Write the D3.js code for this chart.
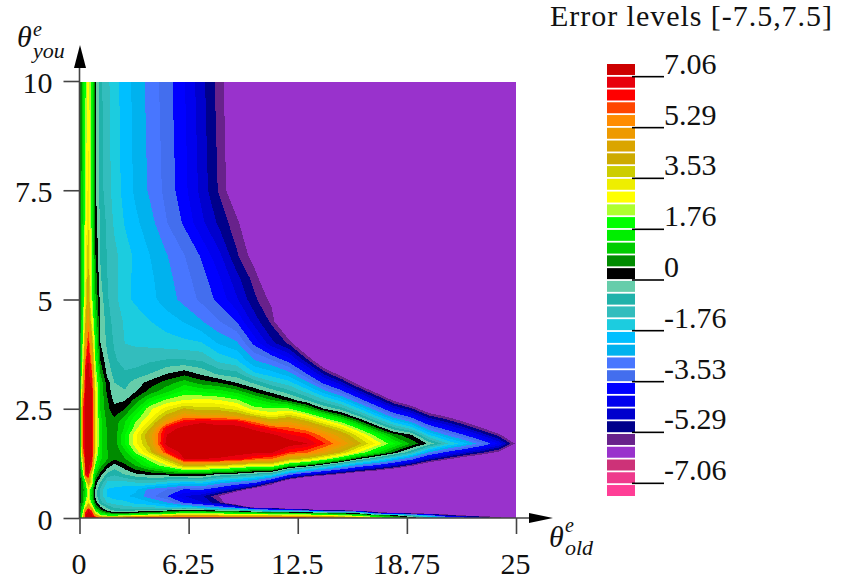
<!DOCTYPE html>
<html>
<head>
  <title>Error levels</title>
  <script src="https://d3js.org/d3.v7.min.js"></script>
  <style>
    html, body { margin: 0; background: #fff; }
    text { font-family: "Liberation Serif", serif; fill: #111; }
  </style>
</head>
<body>
<svg width="846" height="586"></svg>
<script>
  // legend colours, top band first
  const levelColors = ["#cd0000","#e8000d","#ff0000","#ff4500","#ff8c00","#ee9a00","#daa500","#cdaa00","#cdcd00","#eeee00","#ffff00","#adff2f","#00ff00","#00ee00","#00cd00","#008b00","#000000","#66cdaa","#20b2aa","#33bdbd","#1cccdf","#00bfff","#00b2ee","#4876ff","#436eee","#0000ff","#0000ee","#0000cd","#00008b","#68228b","#9932cc","#cd3278","#ee3a8c","#ff3e96"];
  const legendTicks = [7.06, 5.29, 3.53, 1.76, 0, -1.76, -3.53, -5.29, -7.06];
  const xTicks = [0, 6.25, 12.5, 18.75, 25];
  const yTicks = [0, 2.5, 5, 7.5, 10];

  // sampling of the field
  const xGrid = [0,.2,.35,.5,.7,.9,1.2,1.6,2,2.6,3.2,4,5,6,7,8,9,10,11,12,13,14,15,16,17,18,19,20,21,22,23,24,25];
  const yGrid = [0,.06,.12,.18,.25,.35,.5,.65,.8,1,1.2,1.35,1.5,1.7,1.9,2.05,2.2,2.35,2.5,2.7,2.9,3.1,3.3,3.6,4,4.5,5,5.5,6,6.75,7.5,10];
  // one line per xGrid entry, values going up yGrid (anything under -5.74 is the flat purple)
  const errorByColumn = [
    [.5,.4,.3,.3,.3,.2,.1,.1,.1,.1,.2,.2,.2,.2,.3,.3,.3,.3,.3,.3,.3,.3,.3,.3,.3,.3,.3,.25,.2,.2,.2,.2],
    [3.5,3,2.5,2.1,1.5,1,.7,.7,.9,2,3.3,4,5.5,6.3,6.4,6.4,6.4,6.2,6,5.5,4.5,4,3.5,3,2.5,2.1,1.8,1.7,1.6,1.5,1.4,1.3],
    [7.3,7,6.5,5.2,3.5,2.4,1.7,1.6,2,6.8,7.3,7.35,7.4,7.4,7.4,7.4,7.4,7.4,7.4,7.3,7.2,7.1,7.06,6,4.8,4,3.3,3.1,2.9,2.7,2.5,2.2],
    [7.4,7.4,7.3,7.1,5.5,3.5,2.8,3,4.5,7.2,7.4,7.45,7.45,7.45,7.45,7.45,7.45,7.45,7.4,7.4,7.35,7.3,7.3,7.15,6.4,5.4,4.7,4.3,3.9,3.6,3.3,3],
    [7.4,7.3,6.9,5.5,3.5,2,1.2,1.4,3.1,3.2,6.3,7.1,7.3,7.3,7.3,7.3,7.3,7.3,7.25,7.25,7.2,6.9,6.3,5.4,4.6,3.2,2.5,2.3,2.2,2.1,2,1.9],
    [7.2,5,3,1.8,1,.4,-.1,0,.3,1.2,2.2,2.6,3.3,3.5,3.5,3.5,3.5,3.5,3.5,3.4,3.2,3,2.7,2.3,2,1.5,1,.8,.5,.3,.1,.1],
    [6,2.5,1.5,.6,.1,-.7,-1,-1,-.5,.2,1.1,1.4,1.5,1.5,1.5,1.5,1.5,1.4,1.3,1.2,1.3,1.2,.9,.44,0,-.05,-.19,-.39,-.47,-.5,-.69,-.76],
    [6,2,.7,-.2,-.6,-1.35,-1.8,-1.8,-1.5,-.6,.3,.9,.9,.85,.85,.8,.75,.65,.55,.5,.3,.2,-.15,-.35,-.57,-.66,-.83,-.88,-.93,-1,-1.14,-1.22],
    [6,1.9,.2,-.6,-1,-1.5,-2,-1.9,-1.5,-.8,-.2,.5,.55,.62,.6,.62,.6,.38,.18,-.15,-.35,-.44,-.6,-.8,-.94,-1.07,-1.16,-1.2,-1.2,-1.4,-1.51,-1.58],
    [6.5,2.2,.1,-.7,-1.2,-1.6,-2.15,-2,-1.55,-.4,.3,.85,1.1,1.8,1.75,1.4,1.3,.88,.42,-.05,-.4,-.6,-.8,-1.1,-1.33,-1.39,-1.65,-1.6,-1.56,-1.8,-1.93,-1.99],
    [7,2.6,.5,-.6,-1.3,-1.9,-2.3,-2.1,-1.4,-.1,.9,1.4,2.3,2.9,2.95,2.45,2.2,1.8,1.2,.6,-.05,-.26,-.7,-1.1,-1.38,-1.55,-1.84,-1.87,-1.85,-2.1,-2.29,-2.35],
    [7.2,3,.7,-.5,-1.4,-2.1,-2.9,-2.8,-1.3,.1,1.7,2.4,3.6,4.2,4.5,3.9,3.2,2.7,2.5,1.5,.6,.15,-.45,-.95,-1.45,-1.75,-2.05,-2.1,-2.19,-2.45,-2.71,-2.79],
    [7.3,3.6,1.2,-.2,-1.7,-2.6,-3.5,-3.1,-1.65,.25,2.6,4,6.3,7.3,7.06,6.7,5.2,4.1,3.3,2.3,1.2,.65,0,-.83,-1.55,-1.99,-2.42,-2.5,-2.62,-3.07,-3.24,-3.33],
    [7.3,4.2,1.8,.2,-1.8,-3.6,-4.4,-3.6,-2,.44,4.1,7.06,7.35,7.4,7.4,7.3,6.6,5.2,4.05,2.65,1.88,1.1,.3,-.82,-1.64,-2.24,-2.8,-2.92,-3.07,-3.6,-3.83,-3.94],
    [7.3,4,1.7,.1,-2.2,-4.35,-4.75,-3.45,-1.85,.44,4,7.06,7.35,7.45,7.4,7.35,7,4.9,3.65,2.8,1.65,.66,-.1,-.9,-1.73,-2.62,-3.2,-3.35,-3.59,-4.3,-4.57,-4.7],
    [7.3,3.8,1.6,-.4,-3,-5.2,-5.8,-4.1,-2.5,-.1,3.7,7,7.3,7.45,7.4,7.3,6.8,4.9,3.7,2.65,1.5,.42,-.55,-1.44,-2.26,-3.07,-3.67,-3.93,-4.29,-4.95,-5.36,-5.5],
    [7.25,3.7,1.5,-.6,-4.1,-7,-7.4,-5,-3,-.3,3.3,6.8,7.25,7.45,7.4,7.3,6.75,4.5,3.3,2.3,1.1,-.05,-.7,-1.7,-2.55,-3.55,-4.35,-4.7,-5.21,-5.6,-6.3,-6.4],
    [7.2,3.6,1.2,-1.7,-6.5,-6.5,-7,-6.4,-3.53,-.7,2.7,6,7.2,7.45,7.35,6.95,5.7,3.7,2.4,1.55,.35,-.55,-1.65,-2.6,-3.65,-4.6,-5.16,-5.5,-6,-6.5,-7,-7],
    [7.2,3.4,1,-3,-6.5,-7,-7,-7,-5.3,-1.1,2.9,5.74,7.15,7.4,7.2,6.3,4.55,3.05,2.25,.88,-.2,-1.2,-2,-3,-4.7,-5.41,-5.9,-6.5,-7,-7,-7,-7],
    [7.1,3.3,.8,-3,-9,-7,-7,-7,-7.5,-3.15,1.25,4.15,6.2,7.35,6.72,5.88,4.85,3.63,2.28,.25,-.75,-1.6,-2.45,-3.7,-5.4,-7.5,-7,-7,-7,-7,-7,-7],
    [6.9,3.1,.6,-4,-9,-7,-7,-7,-9,-4.3,.5,3.64,5.85,7.1,6.37,5.4,4.2,2.8,1.25,-.47,-1.49,-2.5,-3.5,-5.05,-7.1,-7,-7,-7,-7,-7,-7,-7],
    [6.2,2.9,.2,-5.8,-7,-7,-7,-7,-9.6,-5.1,-.57,2.66,4.95,6.25,5.47,4.43,3.12,1.62,0,-1.26,-2.48,-3.7,-4.93,-6.75,-7,-7,-7,-7,-7,-7,-7,-7],
    [5.5,2.4,-.2,-5.9,-7,-7,-7,-7,-7,-5.9,-1.73,1.48,3.92,5.3,4.5,3.44,2.12,.58,-.65,-2,-3.36,-4.73,-6.08,-7,-7,-7,-7,-7,-7,-7,-7,-7],
    [4.4,1.9,-.6,-7,-7,-7,-7,-7,-7,-6.73,-2.9,0,2.64,4.15,3.28,2.12,.7,-.62,-1.72,-3.2,-4.68,-6.17,-7,-7,-7,-7,-7,-7,-7,-7,-7,-7],
    [3,.9,-5,-7,-7,-7,-7,-7,-7,-7.27,-3.7,-1,1.5,3,1.98,.6,-.71,-1.86,-3,-4.5,-6.02,-7,-7,-7,-7,-7,-7,-7,-7,-7,-7,-7],
    [1.7,.2,-5.9,-7,-7,-7,-7,-7,-7,-7.9,-4.6,-2.1,.35,1.85,.67,-.67,-1.87,-3.1,-4.3,-5.9,-7,-7,-7,-7,-7,-7,-7,-7,-7,-7,-7,-7],
    [.6,-1,-7,-7,-7,-7,-7,-7,-7,-8.7,-5.6,-3.24,-.86,.8,.05,-1.45,-2.68,-3.93,-5.17,-6.84,-7,-7,-7,-7,-7,-7,-7,-7,-7,-7,-7,-7],
    [-.5,-3,-7,-7,-7,-7,-7,-7,-7,-7,-6.7,-4.7,-2.7,-.1,-1.7,-2.9,-4.1,-5.3,-6.5,-7,-7,-7,-7,-7,-7,-7,-7,-7,-7,-7,-7,-7],
    [-2,-5,-7,-7,-7,-7,-7,-7,-7,-7,-7.4,-5.54,-3.67,-1.2,-2.66,-3.77,-4.86,-5.97,-7,-7,-7,-7,-7,-7,-7,-7,-7,-7,-7,-7,-7,-7],
    [-3,-5.8,-7,-7,-7,-7,-7,-7,-7,-7,-7,-6.3,-4.44,-2,-3.48,-4.6,-5.7,-6.8,-7,-7,-7,-7,-7,-7,-7,-7,-7,-7,-7,-7,-7,-7],
    [-4.5,-6,-7,-7,-7,-7,-7,-7,-7,-7,-7,-6.9,-5.16,-2.9,-4.45,-5.6,-6.76,-7,-7,-7,-7,-7,-7,-7,-7,-7,-7,-7,-7,-7,-7,-7],
    [-5.6,-6,-7,-7,-7,-7,-7,-7,-7,-7,-7,-7,-5.9,-4,-5.5,-6.65,-7,-7,-7,-7,-7,-7,-7,-7,-7,-7,-7,-7,-7,-7,-7,-7],
    [-6,-6,-7,-7,-7,-7,-7,-7,-7,-7,-7,-7,-7,-5.85,-7,-7,-7,-7,-7,-7,-7,-7,-7,-7,-7,-7,-7,-7,-7,-7,-7,-7]
  ];

  const svg = d3.select("svg");
  const x = d3.scaleLinear().domain([0, 25]).range([79.5, 516]);
  const y = d3.scaleLinear().domain([0, 10]).range([518, 81]);

  // top edge of each level, same order as levelColors
  const levelTop = d3.scaleLinear().domain([0, 34]).range([7.5, -7.5]);
  const backgroundLevel = levelColors.indexOf("#9932cc");

  const n = xGrid.length, m = yGrid.length;
  const values = [];
  for (let j = 0; j < m; j++) for (let i = 0; i < n; i++) values.push(errorByColumn[i][j]);

  // d3.contours works in cell units with samples at i + .5, the grid is not even
  const cellX = d3.scaleLinear().domain(xGrid.map((d, i) => i + .5)).range(xGrid).clamp(true);
  const cellY = d3.scaleLinear().domain(yGrid.map((d, i) => i + .5)).range(yGrid).clamp(true);
  const path = d3.geoPath(d3.geoTransform({
    point(px, py) { this.stream.point(x(cellX(px)), y(cellY(py))); }
  }));

  svg.append("clipPath").attr("id", "plot-clip").append("rect")
    .attr("x", x(0)).attr("y", y(10) + 1)
    .attr("width", x(25) - x(0)).attr("height", y(0) - y(10) - 1);
  const plot = svg.append("g").attr("shape-rendering", "crispEdges").attr("clip-path", "url(#plot-clip)");
  plot.append("rect")
    .attr("x", x(0)).attr("y", y(10))
    .attr("width", x(25) - x(0)).attr("height", y(0) - y(10))
    .attr("fill", levelColors[backgroundLevel]);

  const bands = d3.range(backgroundLevel - 1, -1, -1);
  const contours = d3.contours().size([n, m]).smooth(true)
    .thresholds(bands.map(k => levelTop(k + 1)))(values);
  plot.selectAll("path").data(contours).enter().append("path")
    .attr("d", path)
    .attr("fill", (d, i) => levelColors[bands[i]]);

  // axes
  const axisColor = "#444";
  const xAxis = svg.append("g").attr("transform", "translate(0," + y(0) + ")")
    .call(d3.axisBottom(x).tickValues(xTicks).tickSize(16).tickFormat(d => d));
  const yAxis = svg.append("g").attr("transform", "translate(" + x(0) + ",0)")
    .call(d3.axisLeft(y).tickValues(yTicks).tickSize(16).tickFormat(d => d));
  [xAxis, yAxis].forEach(a => {
    a.attr("font-family", null);
    a.select(".domain").remove();
    a.selectAll("line").attr("stroke", axisColor).attr("stroke-width", 1.6);
    a.selectAll("text").attr("font-size", 30).attr("fill", "#111");
  });
  xAxis.selectAll("text").attr("y", 56).attr("dy", 0).attr("x", -1);
  yAxis.selectAll("text").attr("x", -27).attr("dy", 11);

  svg.append("line").attr("x1", x(0)).attr("x2", 532).attr("y1", y(0)).attr("y2", y(0))
    .attr("stroke", axisColor).attr("stroke-width", 1.6);
  svg.append("line").attr("x1", x(0)).attr("x2", x(0)).attr("y1", y(0)).attr("y2", 66)
    .attr("stroke", axisColor).attr("stroke-width", 1.6);
  svg.append("path").attr("d", "M553,518L529,513L529,523Z").attr("fill", "#000");
  svg.append("path").attr("d", "M80,45L74,68L86,68Z").attr("fill", "#000");

  function axisLabel(tx, ty, sub, ex, ey, sx, sy) {
    const t = svg.append("text").attr("font-style", "italic");
    t.append("tspan").attr("x", tx).attr("y", ty).attr("font-size", 30).text("\u03b8");
    t.append("tspan").attr("x", ex).attr("y", ey).attr("font-size", 20).text("e");
    t.append("tspan").attr("x", sx).attr("y", sy).attr("font-size", 22).text(sub);
  }
  axisLabel(17, 47, "you", 33, 36, 33, 58);
  axisLabel(549, 547, "old", 565, 532, 565, 555);

  // legend
  const legendBand = d3.scaleBand().domain(d3.range(levelColors.length)).range([64, 496]).paddingInner(.14);
  const legendScale = d3.scaleLinear().domain([7.5, -7.5]).range([64, 496]);
  svg.append("g").selectAll("rect").data(levelColors).enter().append("rect")
    .attr("x", 607).attr("width", 28)
    .attr("y", (d, i) => legendBand(i)).attr("height", legendBand.bandwidth())
    .attr("fill", d => d);
  const lt = svg.append("g").selectAll("g").data(legendTicks).enter().append("g")
    .attr("transform", d => "translate(0," + legendScale(d) + ")");
  lt.append("line").attr("x1", 632).attr("x2", 664).attr("stroke", "#000").attr("stroke-width", 1.6);
  lt.append("text").attr("x", 664).attr("y", -3).attr("font-size", 30).text(d => d);

  svg.append("text").attr("x", 550).attr("y", 26).attr("font-size", 30)
    .attr("textLength", 282).attr("lengthAdjust", "spacing").text("Error levels [-7.5,7.5]");
</script>
</body>
</html>
